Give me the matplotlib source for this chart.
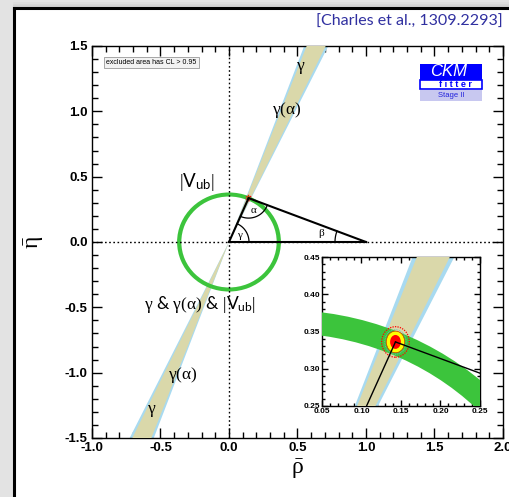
import numpy as np
import matplotlib
matplotlib.use("Agg")
import matplotlib.pyplot as plt
from matplotlib.patches import Polygon, Annulus, Ellipse, Rectangle
from matplotlib.lines import Line2D
from matplotlib.ticker import MultipleLocator

plt.rcParams['mathtext.fontset'] = 'custom'
plt.rcParams['mathtext.rm'] = 'Liberation Serif'
plt.rcParams['mathtext.sf'] = 'Lato'
plt.rcParams['mathtext.it'] = 'Liberation Serif:italic'

# ---- constraints in the (rho-bar, eta-bar) plane ----
gamma_deg = [64.8, 69.3]          # direct gamma band (degrees)
gamma_alpha_deg = [64.2, 69.9]    # gamma(alpha) band (degrees)
vub_radius = [0.348, 0.379]       # |Vub| ring, inner / outer radius
apex = [0.143, 0.336]             # global fit (rho-bar, eta-bar)
cl_width = [0.035, 0.027, 0.0234, 0.0136]    # CL contours around the fit
cl_height = [0.041, 0.033, 0.029, 0.0187]
main_xlim = [-1.0, 2.0]
main_ylim = [-1.5, 1.5]
zoom_xlim = [0.05, 0.25]
zoom_ylim = [0.25, 0.45]

BEIGE = '#dad8aa'
LBLUE = '#a8daf0'
GREEN = '#3cc43c'

W, H = 510, 497
fig = plt.figure(figsize=(W / 100, H / 100), dpi=100, facecolor='#e3e3e3')

# slide panel
fig.patches.append(Rectangle((14 / W, 0), 1, (H - 8) / H, transform=fig.transFigure,
                             facecolor='white', edgecolor='none', zorder=-2))
fig.lines.append(Line2D([14 / W, 14 / W], [0, (H - 8) / H], transform=fig.transFigure,
                        color='black', lw=2.2, zorder=-1))
fig.lines.append(Line2D([14 / W, 1], [(H - 8) / H, (H - 8) / H], transform=fig.transFigure,
                        color='black', lw=2.2, zorder=-1))
for k, c in enumerate(['#c8c8c8', '#d4d4d4', '#dcdcdc']):
    y = (H - 6 + 1.3 * k) / H
    fig.lines.append(Line2D([14 / W, 1], [y, y], transform=fig.transFigure,
                            color=c, lw=1.2, zorder=-1))

fig.text(503 / W, 1 - 22 / H, '[Charles et al., 1309.2293]', ha='right', va='center',
         color='#3030a0', fontsize=11.5, family='Lato')


def px_axes(left, top, right, bottom):
    return [left / W, 1 - bottom / H, (right - left) / W, (bottom - top) / H]


def wedge(ax, band, color, z):
    R = 5.0
    g1, g2 = np.radians(band)
    for s in (1, -1):
        pts = [(0, 0), (s * R * np.cos(g1), s * R * np.sin(g1)),
               (s * R * np.cos(g2), s * R * np.sin(g2))]
        ax.add_patch(Polygon(pts, closed=True, facecolor=color, edgecolor='none', zorder=z))


def constraints(ax, lw):
    wedge(ax, gamma_alpha_deg, LBLUE, 2)
    wedge(ax, gamma_deg, BEIGE, 3)
    ax.add_patch(Annulus((0, 0), vub_radius[1], vub_radius[1] - vub_radius[0],
                         facecolor=GREEN, edgecolor='none', zorder=4))
    ax.plot([0, 1], [0, 0], color='black', lw=lw, zorder=6)
    ax.add_patch(Ellipse(apex, cl_width[0], cl_height[0], facecolor='none',
                         edgecolor='red', ls=(0, (1, 1)), lw=0.9, zorder=7))
    ax.add_patch(Ellipse(apex, cl_width[1], cl_height[1], facecolor='none',
                         edgecolor='#66bbbb', ls=(0, (1, 1)), lw=0.6, zorder=7))
    ax.add_patch(Ellipse(apex, cl_width[2], cl_height[2], facecolor='#ffff00',
                         edgecolor='#cc3300', lw=0.5, zorder=7))
    ax.add_patch(Ellipse(apex, cl_width[3], cl_height[3], facecolor='#ff0000',
                         edgecolor='none', zorder=8))
    ax.plot([0, apex[0]], [0, apex[1]], color='black', lw=lw, zorder=9)
    ax.plot([apex[0], 1], [apex[1], 0], color='black', lw=lw, zorder=9)


def style_axes(ax, major, minor, size, lmaj, lmin, fmt):
    ax.xaxis.set_major_locator(MultipleLocator(major))
    ax.xaxis.set_minor_locator(MultipleLocator(minor))
    ax.yaxis.set_major_locator(MultipleLocator(major))
    ax.yaxis.set_minor_locator(MultipleLocator(minor))
    ax.xaxis.set_major_formatter(lambda v, p: fmt.format(v))
    ax.yaxis.set_major_formatter(lambda v, p: fmt.format(v))
    ax.tick_params(which='both', direction='in', top=True, right=True, width=1)
    ax.tick_params(which='major', length=lmaj, labelsize=size, pad=3)
    ax.tick_params(which='minor', length=lmin)
    for lab in ax.get_xticklabels() + ax.get_yticklabels():
        lab.set_fontweight('bold')
        lab.set_family('Liberation Sans')
    for sp in ax.spines.values():
        sp.set_linewidth(1.0)


# ---- main plane ----
ax = fig.add_axes(px_axes(92, 46, 503, 438))
ax.set_zorder(5)
ax.set_xlim(main_xlim)
ax.set_ylim(main_ylim)
constraints(ax, 1.5)
ax.axvline(0, color='black', ls=(0, (1.2, 1.8)), lw=1.0, zorder=5)
ax.axhline(0, color='black', ls=(0, (1.2, 1.8)), lw=1.0, zorder=5)
style_axes(ax, 0.5, 0.1, 9.5, 7, 4, '{:.1f}')
ax.set_xlabel(r'$\bar{\mathrm{ρ}}$', fontsize=17, labelpad=2)
ax.set_ylabel(r'$\bar{\mathrm{η}}$', fontsize=17, labelpad=14)

# angle arcs, drawn round in screen space
T = ax.transData


def angle_arc(vertex, p1, p2, r_px, label, lab_px):
    v = T.transform(vertex)
    a1 = np.arctan2(*(T.transform(p1) - v)[::-1])
    a2 = np.arctan2(*(T.transform(p2) - v)[::-1])
    if a2 < a1:
        a2 += 2 * np.pi
    t = np.linspace(a1, a2, 60)
    pts = np.column_stack([v[0] + r_px * np.cos(t), v[1] + r_px * np.sin(t)])
    d = T.inverted().transform(pts)
    ax.plot(d[:, 0], d[:, 1], color='black', lw=0.9, zorder=9)
    am = 0.5 * (a1 + a2)
    lp = T.inverted().transform([v[0] + lab_px * np.cos(am), v[1] + lab_px * np.sin(am)])
    ax.text(lp[0], lp[1], label, ha='center', va='center', fontsize=8,
            family='Liberation Serif', zorder=10)


angle_arc((0, 0), (1, 0), apex, 20, 'γ', 12)
angle_arc(apex, (0, 0), (1, 0), 20, 'α', 13)
angle_arc((1, 0), apex, (0, 0), 31, 'β', 46)

lab_kw = dict(ha='center', va='center', zorder=10, family='Lato')
ax.text(0.52, 1.33, r'$\mathrm{γ}$', fontsize=12.5, **lab_kw)
ax.text(0.42, 1.01, r'$\mathrm{γ(α)}$', fontsize=12.5, **lab_kw)
ax.text(-0.235, 0.46, r'$|\mathsf{V}_{\mathsf{ub}}|$', fontsize=13.5, **lab_kw)
ax.text(-0.21, -0.48, r'$\mathrm{γ}$ & $\mathrm{γ(α)}$ & $|\mathsf{V}_{\mathsf{ub}}|$',
        fontsize=12.5, **lab_kw)
ax.text(-0.34, -1.02, r'$\mathrm{γ(α)}$', fontsize=12.5, **lab_kw)
ax.text(-0.565, -1.29, r'$\mathrm{γ}$', fontsize=12.5, **lab_kw)

ax.text(0.035, 0.958, 'excluded area has CL > 0.95', transform=ax.transAxes,
        fontsize=5, family='Liberation Sans', va='center', ha='left', zorder=11,
        bbox=dict(boxstyle='square,pad=0.35', facecolor='#f2f2f2', edgecolor='#999999', lw=0.6))

# CKMfitter logo
lx0, lx1 = (420 - 92) / 411, (482 - 92) / 411


def ay(py):
    return (438 - py) / 392


ax.add_patch(Rectangle((lx0, ay(80)), lx1 - lx0, ay(64) - ay(80), transform=ax.transAxes,
                       facecolor='#0000ff', edgecolor='none', zorder=11))
ax.add_patch(Rectangle((lx0, ay(89)), lx1 - lx0, ay(80) - ay(89), transform=ax.transAxes,
                       facecolor='white', edgecolor='#0000ff', lw=1.2, zorder=11))
ax.add_patch(Rectangle((lx0, ay(101)), lx1 - lx0, ay(90) - ay(101), transform=ax.transAxes,
                       facecolor='#c8c8f0', edgecolor='none', zorder=11))
ax.text((lx0 + lx1) / 2 - 0.005, ay(72), 'CKM', transform=ax.transAxes, color='white',
        fontsize=12, style='italic', family='Liberation Sans', ha='center', va='center', zorder=12)
ax.text((lx0 + lx1) / 2 + 0.012, ay(84.5), 'f i t t e r', transform=ax.transAxes, color='#0000ff',
        fontsize=6.5, fontweight='bold', family='Liberation Sans', ha='center', va='center', zorder=12)
ax.text((lx0 + lx1) / 2, ay(95.5), 'Stage II', transform=ax.transAxes, color='#2222dd',
        fontsize=5.5, family='Liberation Sans', ha='center', va='center', zorder=12)

# ---- zoom on the apex ----
ins = fig.add_axes(px_axes(322, 257, 480, 406))
ins.set_facecolor('white')
ins.set_zorder(20)
ins.set_xlim(zoom_xlim)
ins.set_ylim(zoom_ylim)
constraints(ins, 1.0)
style_axes(ins, 0.05, 0.01, 6, 4, 2, '{:.2f}')
ins.tick_params(which='major', pad=1.5)

fig.savefig('out.png', dpi=100, facecolor=fig.get_facecolor())
